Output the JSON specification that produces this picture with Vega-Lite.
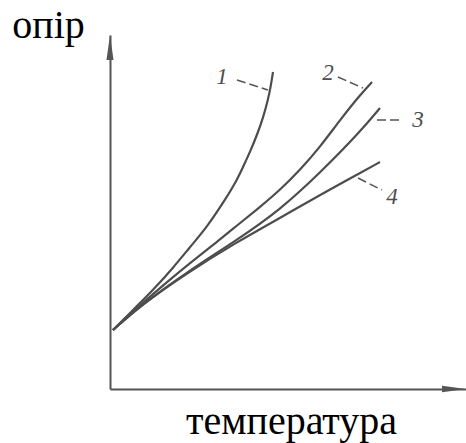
{
  "$schema": "https://vega.github.io/schema/vega-lite/v6.json",
  "width": 356,
  "height": 354,
  "autosize": "none",
  "padding": {"left": 110, "top": 35, "right": 0, "bottom": 54},
  "background": "white",
  "config": {"view": {"stroke": null}},
  "datasets": {
    "curves": [
      {"curve": "1", "t": 0.84, "r": 16.67},
      {"curve": "1", "t": 8.43, "r": 24.29},
      {"curve": "1", "t": 12.08, "r": 27.97},
      {"curve": "1", "t": 17.7, "r": 34.18},
      {"curve": "1", "t": 22.47, "r": 40.11},
      {"curve": "1", "t": 27.25, "r": 45.76},
      {"curve": "1", "t": 32.3, "r": 53.39},
      {"curve": "1", "t": 35.67, "r": 59.04},
      {"curve": "1", "t": 37.36, "r": 62.71},
      {"curve": "1", "t": 39.33, "r": 66.95},
      {"curve": "1", "t": 41.29, "r": 71.75},
      {"curve": "1", "t": 42.98, "r": 76.55},
      {"curve": "1", "t": 44.38, "r": 81.64},
      {"curve": "1", "t": 45.22, "r": 85.88},
      {"curve": "1", "t": 45.79, "r": 89.55},
      {"curve": "2", "t": 0.84, "r": 16.67},
      {"curve": "2", "t": 8.43, "r": 23.73},
      {"curve": "2", "t": 17.7, "r": 31.64},
      {"curve": "2", "t": 22.47, "r": 35.59},
      {"curve": "2", "t": 30.06, "r": 41.53},
      {"curve": "2", "t": 36.52, "r": 46.89},
      {"curve": "2", "t": 42.13, "r": 51.41},
      {"curve": "2", "t": 47.75, "r": 56.21},
      {"curve": "2", "t": 53.37, "r": 61.86},
      {"curve": "2", "t": 58.99, "r": 68.36},
      {"curve": "2", "t": 64.61, "r": 75.99},
      {"curve": "2", "t": 70.22, "r": 83.05},
      {"curve": "2", "t": 73.6, "r": 86.72},
      {"curve": "3", "t": 0.84, "r": 16.67},
      {"curve": "3", "t": 8.43, "r": 23.45},
      {"curve": "3", "t": 21.63, "r": 33.05},
      {"curve": "3", "t": 35.67, "r": 42.09},
      {"curve": "3", "t": 47.75, "r": 50.56},
      {"curve": "3", "t": 58.99, "r": 61.02},
      {"curve": "3", "t": 70.22, "r": 72.6},
      {"curve": "3", "t": 75.84, "r": 79.38},
      {"curve": "4", "t": 0.84, "r": 16.67},
      {"curve": "4", "t": 8.43, "r": 23.45},
      {"curve": "4", "t": 21.63, "r": 32.77},
      {"curve": "4", "t": 35.67, "r": 41.53},
      {"curve": "4", "t": 47.75, "r": 48.31},
      {"curve": "4", "t": 60.96, "r": 55.93},
      {"curve": "4", "t": 70.22, "r": 61.02},
      {"curve": "4", "t": 75.84, "r": 64.12}
    ],
    "labels": [
      {"curve": "1", "t": 31.46, "r": 88.14, "t1": 35.67, "r1": 87.29, "t2": 44.38, "r2": 84.46},
      {"curve": "2", "t": 61.24, "r": 89.27, "t1": 64.04, "r1": 88.14, "t2": 71.07, "r2": 85.03},
      {"curve": "3", "t": 86.52, "r": 75.99, "t1": 75.0, "r1": 75.99, "t2": 82.3, "r2": 75.99},
      {"curve": "4", "t": 79.21, "r": 54.24, "t1": 69.66, "r1": 59.6, "t2": 76.4, "r2": 56.21}
    ]
  },
  "layer": [
    {
      "data": {"name": "curves"},
      "mark": {"type": "line", "interpolate": "basis", "stroke": "#4d4d4d", "strokeWidth": 2.2},
      "encoding": {
        "x": {
          "field": "t", "type": "quantitative",
          "scale": {"domain": [0, 100], "nice": false, "zero": true},
          "axis": {
            "domain": true, "domainColor": "#555", "domainWidth": 2,
            "ticks": false, "labels": false, "grid": false,
            "title": "температура",
            "titleFont": "Liberation Serif", "titleFontSize": 40, "titleFontWeight": "normal",
            "titleColor": "#000", "titleAlign": "center", "titleBaseline": "alphabetic",
            "titleX": 181, "titleY": 44
          }
        },
        "y": {
          "field": "r", "type": "quantitative",
          "scale": {"domain": [0, 100], "nice": false, "zero": true},
          "axis": {
            "domain": true, "domainColor": "#555", "domainWidth": 2,
            "ticks": false, "labels": false, "grid": false,
            "title": "опір", "titleAngle": 0,
            "titleFont": "Liberation Serif", "titleFontSize": 40, "titleFontWeight": "normal",
            "titleColor": "#000", "titleAlign": "center", "titleBaseline": "alphabetic",
            "titleX": -62, "titleY": 2
          }
        },
        "detail": {"field": "curve"}
      }
    },
    {
      "data": {"name": "labels"},
      "mark": {"type": "rule", "stroke": "#555", "strokeWidth": 1.5, "strokeDash": [9, 4]},
      "encoding": {
        "x": {"field": "t1", "type": "quantitative"},
        "y": {"field": "r1", "type": "quantitative"},
        "x2": {"field": "t2"},
        "y2": {"field": "r2"}
      }
    },
    {
      "data": {"name": "labels"},
      "mark": {"type": "text", "font": "Liberation Serif", "fontStyle": "italic", "fontSize": 23, "color": "#4d4d4d", "align": "center", "baseline": "middle"},
      "encoding": {
        "x": {"field": "t", "type": "quantitative"},
        "y": {"field": "r", "type": "quantitative"},
        "text": {"field": "curve"}
      }
    },
    {
      "data": {"values": [{"t": 0, "r": 96.47}]},
      "mark": {"type": "point", "shape": "M0,-1L0.28,1L-0.28,1Z", "size": 625, "filled": true, "color": "#555", "opacity": 1},
      "encoding": {
        "x": {"field": "t", "type": "quantitative"},
        "y": {"field": "r", "type": "quantitative"}
      }
    },
    {
      "data": {"values": [{"t": 96.63, "r": 0}]},
      "mark": {"type": "point", "shape": "M1,0L-1,-0.28L-1,0.28Z", "size": 576, "filled": true, "color": "#555", "opacity": 1},
      "encoding": {
        "x": {"field": "t", "type": "quantitative"},
        "y": {"field": "r", "type": "quantitative"}
      }
    }
  ]
}
